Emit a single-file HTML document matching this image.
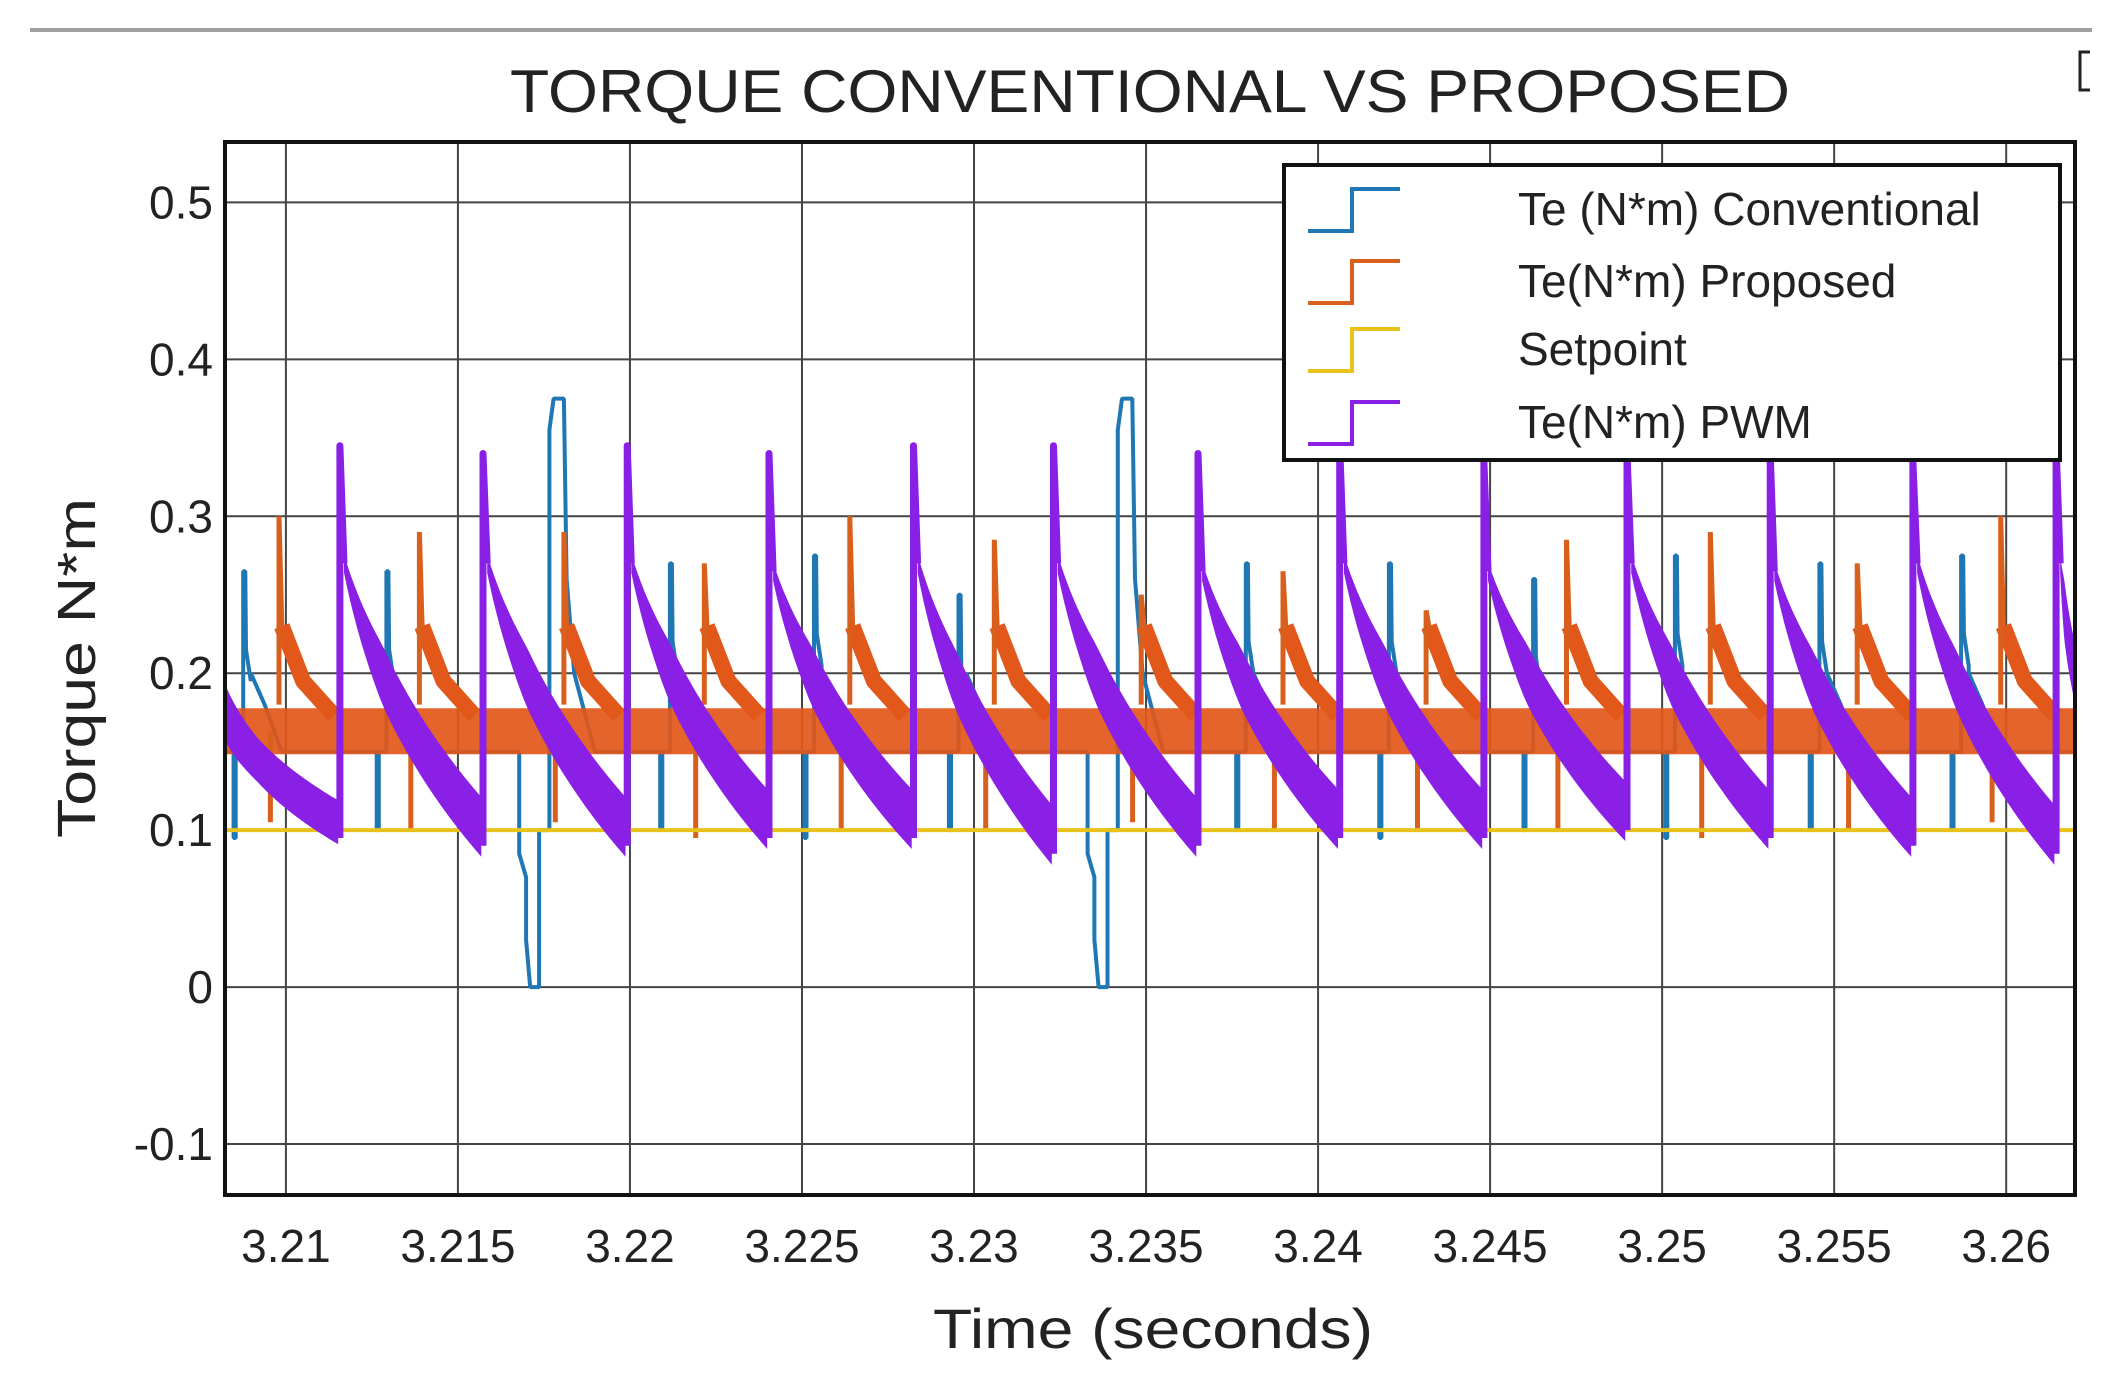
<!DOCTYPE html>
<html><head><meta charset="utf-8"><style>
html,body{margin:0;padding:0;background:#fff;}
svg{display:block;font-family:"Liberation Sans",sans-serif;}
</style></head><body>
<svg id="chart" width="2104" height="1388" viewBox="0 0 2104 1388" xmlns="http://www.w3.org/2000/svg">
<rect x="0" y="0" width="2104" height="1388" fill="#fff"/>
<line x1="30" y1="30" x2="2092" y2="30" stroke="#a0a0a0" stroke-width="4"/>
<path d="M2090 52 L2080 52 L2080 90 L2090 90" fill="none" stroke="#222" stroke-width="3"/>
<text x="1150" y="112" font-size="60" text-anchor="middle" fill="#222" textLength="1280" lengthAdjust="spacingAndGlyphs">TORQUE CONVENTIONAL VS PROPOSED</text>
<g id="grid"></g>
<g id="series"></g>
<g id="axes"></g>
<g id="legend"></g>
<text transform="translate(95,668) rotate(-90)" font-size="54" text-anchor="middle" fill="#222" textLength="340" lengthAdjust="spacingAndGlyphs">Torque N*m</text>
<text x="1153" y="1348" font-size="56" text-anchor="middle" fill="#222" textLength="440" lengthAdjust="spacingAndGlyphs">Time (seconds)</text>
</svg>
<script>
// ---- data ----
const xTicks = [3.21,3.215,3.22,3.225,3.23,3.235,3.24,3.245,3.25,3.255,3.26];
const xTickLabels = ["3.21","3.215","3.22","3.225","3.23","3.235","3.24","3.245","3.25","3.255","3.26"];
const yTicks = [-0.1,0,0.1,0.2,0.3,0.4,0.5];
const yTickLabels = ["-0.1","0","0.1","0.2","0.3","0.4","0.5"];
const setpointValue = [0.1, 0.1];
const purpleSpikeT = [3.21157,3.21573,3.21992,3.22404,3.22824,3.23231,3.23651,3.24063,3.24482,3.24898,3.25314,3.25729,3.26145];
const purplePeak = [0.345,0.34,0.345,0.34,0.345,0.345,0.34,0.345,0.335,0.34,0.34,0.335,0.345];
const purpleDrop = [0.27,0.27,0.27,0.265,0.27,0.27,0.265,0.27,0.265,0.27,0.265,0.27,0.27];
const purpleEnd = [0.095,0.09,0.09,0.095,0.095,0.085,0.09,0.095,0.095,0.1,0.095,0.09,0.085];
const purpleStart = 0.175;
const orangeSpikeT = [3.20980,3.21388,3.21808,3.22216,3.22639,3.23059,3.23486,3.23898,3.24314,3.24722,3.25140,3.25567,3.25984];
const orangePeak = [0.30,0.29,0.29,0.27,0.30,0.285,0.25,0.265,0.24,0.285,0.29,0.27,0.30];
const orangeDip = [0.105,0.10,0.105,0.095,0.10,0.10,0.105,0.10,0.10,0.10,0.095,0.10,0.105];
const orangeBase = 0.163;
const blueSpikeT = [3.20878,3.21294,3.22118,3.22537,3.22957,3.23792,3.24208,3.24627,3.25039,3.25459,3.25871];
const bluePeak = [0.265,0.265,0.27,0.275,0.25,0.27,0.27,0.26,0.275,0.27,0.275];
const blueDip = [0.095,0.10,0.10,0.095,0.10,0.10,0.095,0.10,0.095,0.10,0.10];
const blueBigT = [3.21678,3.23330];
const blueBigPeak = [0.375,0.375];
const blueBigLow = [0.0,0.0];
const blueBase = 0.15;

// ---- axes ----
const X0=225, X1=2075, Y0=142, Y1=1195;
const tMin=3.20823, tMax=3.2620, vMin=-0.1325, vMax=0.5385;
const x = t => X0 + (t-tMin)/(tMax-tMin)*(X1-X0);
const y = v => Y1 - (v-vMin)/(vMax-vMin)*(Y1-Y0);
const NS="http://www.w3.org/2000/svg";
function mk(tag, parent, attrs){const e=document.createElementNS(NS,tag);for(const k in attrs)e.setAttribute(k,attrs[k]);parent.appendChild(e);return e;}
const grid=document.getElementById('grid'), series=document.getElementById('series'), axes=document.getElementById('axes'), legend=document.getElementById('legend');

mk('rect',grid,{x:X0,y:Y0,width:X1-X0,height:Y1-Y0,fill:'#fff'});
xTicks.forEach((t,i)=>{
  const g=mk('line',grid,{x1:x(t),x2:x(t),y1:Y0,y2:Y1,stroke:'#444',"stroke-width":2});
  
  
  const lb=mk('text',axes,{x:x(t),y:1262,"font-size":46,"text-anchor":"middle",fill:'#222'});
  lb.textContent=xTickLabels[i];
  
  
});
yTicks.forEach((v,i)=>{
  const g=mk('line',grid,{x1:X0,x2:X1,y1:y(v),y2:y(v),stroke:'#444',"stroke-width":2});
  
  
  const lb=mk('text',axes,{x:213,y:y(v)+16,"font-size":46,"text-anchor":"end",fill:'#222'});
  lb.textContent=yTickLabels[i];
  
  
});

function P(t,v){return x(t).toFixed(1)+','+y(v).toFixed(1);}

// ---- series: conventional (blue) ----
let bd='M'+P(tMin,blueBase);
const blueEvents=[];
blueSpikeT.forEach((T,i)=>blueEvents.push({T,kind:'n',i}));
blueBigT.forEach((T,i)=>blueEvents.push({T,kind:'b',i}));
blueEvents.sort((a,b)=>a.T-b.T);
blueEvents.forEach(ev=>{
  const T=ev.T;
  if(ev.kind==='n'){
    const p=bluePeak[ev.i], d=blueDip[ev.i];
    bd+=' L'+P(T-0.00030,blueBase)+' L'+P(T-0.00030,d)+' L'+P(T-0.00024,d)+' L'+P(T-0.00024,blueBase)
      +' L'+P(T-0.00002,blueBase)+' L'+P(T-0.00002,p)+' L'+P(T+0.00004,p)+' L'+P(T+0.00006,p-0.05)
      +' L'+P(T+0.0002,p-0.07)+' L'+P(T+0.0002,0.2)+' L'+P(T+0.0006,0.18)+' L'+P(T+0.0011,blueBase);
  } else {
    const p=blueBigPeak[ev.i], lo=blueBigLow[ev.i];
    bd+=' L'+P(T,blueBase)+' L'+P(T,0.085)+' L'+P(T+0.0002,0.07)+' L'+P(T+0.0002,0.03)+' L'+P(T+0.00032,lo)
      +' L'+P(T+0.00058,lo)+' L'+P(T+0.00058,0.1)+' L'+P(T+0.00088,0.1)+' L'+P(T+0.00088,p-0.02)
      +' L'+P(T+0.001,p)+' L'+P(T+0.0013,p)+' L'+P(T+0.00138,0.26)+' L'+P(T+0.0016,0.2)+' L'+P(T+0.0022,blueBase);
  }
});
bd+=' L'+P(tMax,blueBase);
const blue=mk('path',series,{d:bd,fill:'none',stroke:'#1f77b4',"stroke-width":4,"stroke-linejoin":"bevel"});



// ---- series: proposed (orange) ----
const oBand=mk('path',series,{d:'M'+P(tMin,orangeBase)+' L'+P(tMax,orangeBase),stroke:'#e2571a',"stroke-width":46,fill:'none',opacity:0.92});


let od='';
orangeSpikeT.forEach((T,i)=>{
  od+=' M'+P(T+0.00008,0.23)+' L'+P(T+0.0007,0.195)+' L'+P(T+0.0016,orangeBase+0.01);
});
const orange=mk('path',series,{d:od,fill:'none',stroke:'#e2571a',"stroke-width":16,"stroke-linejoin":"round"});


let osd='';
orangeSpikeT.forEach((T,i)=>{
  osd+=' M'+P(T-0.00025,orangeBase)+' L'+P(T-0.00025,orangeDip[i])+' M'+P(T,0.18)+' L'+P(T,orangePeak[i])+' L'+P(T+0.00008,0.23);
});
const oSp=mk('path',series,{d:osd,fill:'none',stroke:'#d9601c',"stroke-width":5});



// ---- series: setpoint (yellow) ----
const sp=mk('line',series,{x1:x(tMin),x2:x(tMax),y1:y(setpointValue[0]),y2:y(setpointValue[1]),stroke:'#e8c21a',"stroke-width":4});



// ---- series: PWM (purple) ----
// band polygon following a quadratic decay, tapering thickness
function bandPoly(t0,v0,t1,v1,w0,w1){
  const ct=t0+(t1-t0)*0.25, cv=v1+(v0-v1)*0.45;
  const up=[],lo=[];
  for(let k=0;k<=24;k++){
    const s=k/24, a=(1-s)*(1-s), b=2*(1-s)*s, c=s*s;
    const tt=a*t0+b*ct+c*t1, vv=a*v0+b*cv+c*v1;
    const w=w0+(w1-w0)*Math.min(1,s*2.5);
    up.push(P(tt,vv+w)); lo.push(P(tt,vv-w));
  }
  return 'M'+up.join(' L')+' L'+lo.reverse().join(' L')+' Z';
}
let pd=bandPoly(tMin,purpleStart,purpleSpikeT[0]-0.00005,purpleEnd[0]+0.01,0.018,0.014);
let psp='';
purpleSpikeT.forEach((T,i)=>{
  const tNext = i+1<purpleSpikeT.length ? purpleSpikeT[i+1]-0.00005 : tMax;
  const vNext = i+1<purpleSpikeT.length ? purpleEnd[i+1]+0.012 : 0.2;
  psp+=' M'+P(T,purpleEnd[i])+' L'+P(T,purplePeak[i])+' L'+P(T+0.00012,purpleDrop[i]);
  pd+=' '+bandPoly(T+0.00012,purpleDrop[i],tNext,vNext,0.006,0.019);
});
const purple=mk('path',series,{d:pd,fill:'#8a1fe6',stroke:'none'});


const purpleS=mk('path',series,{d:psp,fill:'none',stroke:'#8a1fe6',"stroke-width":7,"stroke-linejoin":"round"});



// clip series
const cp=mk('clipPath',document.getElementById('chart'),{id:'plotclip'});
mk('rect',cp,{x:X0,y:Y0,width:X1-X0,height:Y1-Y0});
series.setAttribute('clip-path','url(#plotclip)');

const box=mk('rect',axes,{x:X0,y:Y0,width:X1-X0,height:Y1-Y0,fill:'none',stroke:'#111',"stroke-width":4});



// ---- legend ----
const lg=mk('rect',legend,{x:1284,y:165,width:776,height:295,fill:'#fff',stroke:'#111',"stroke-width":4});


const legNames=["Te (N*m) Conventional","Te(N*m) Proposed","Setpoint","Te(N*m) PWM"];
const legColors=["#1f77b4","#d9601c","#e8c21a","#8a1fe6"];
const legY=[209,281,349,422];
legNames.forEach((n,i)=>{
  const cy=legY[i];
  const ic=mk('path',legend,{d:`M1308 ${cy+22} L1352 ${cy+22} L1352 ${cy-20} L1400 ${cy-20}`,fill:'none',stroke:legColors[i],"stroke-width":4});
  
  
  const t=mk('text',legend,{x:1518,y:cy+16,"font-size":46,fill:'#222'});
  t.textContent=n;
  
  
});
</script>
</body></html>
